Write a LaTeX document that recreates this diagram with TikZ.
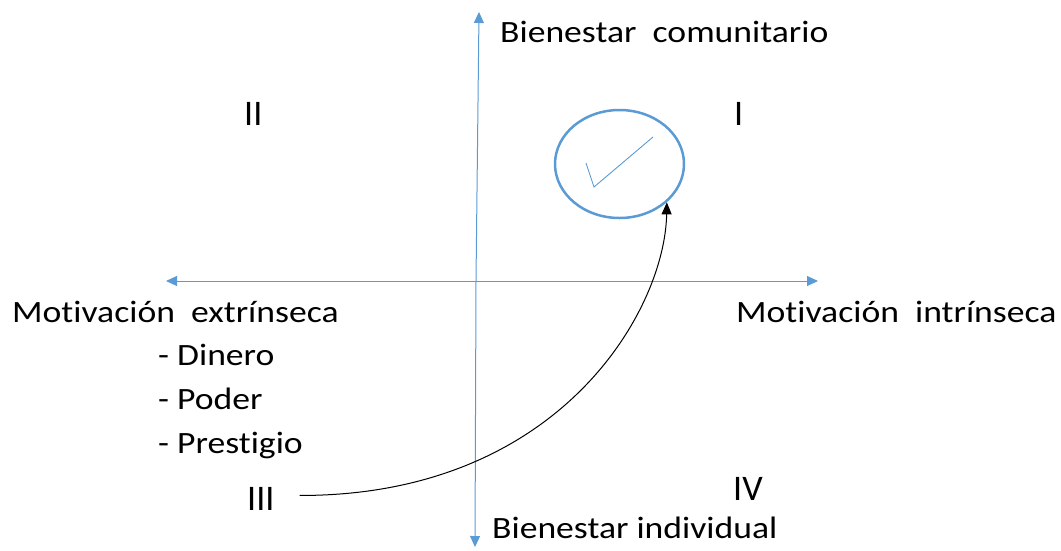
\documentclass[tikz,border=0pt]{standalone}
\usepackage{fontspec}
\setmainfont{Carlito}[Ligatures=NoCommon]
\newfontfamily\widefont{Carlito}[Ligatures=NoCommon, FakeStretch=1.15]
\usetikzlibrary{arrows.meta,shapes.geometric}
\definecolor{axisblue}{HTML}{5B9BD5}
\tikzset{
  axis/.style={draw=axisblue, line width=1pt, -{Triangle[length=11pt, width=10pt]}},
  lbl/.style={anchor=base west, inner sep=0pt, font=\widefont\fontsize{31}{36}\selectfont},
  numeral/.style={anchor=base west, inner sep=0pt, font=\fontsize{36}{40}\selectfont}
}

\begin{document}
\begin{tikzpicture}[x=1pt, y=-1pt]
			%%%%% START %%%%%
			\useasboundingbox (0, 0) rectangle (1061, 550);
			
			\coordinate (top) at (479, 12);
			\coordinate (bottom) at (475, 547);
			\coordinate (left) at (166, 281);
			\coordinate (right) at (818, 281);
			\coordinate (mid) at (476, 281);
			
			\draw[axis] (mid) -- (top);
			\draw[axis] (mid) -- (bottom);
			\draw[axis] (mid) -- (left);
			\draw[axis] (mid) -- (right);
			
			\node[lbl] (comunitario) at (500, 42) {Bienestar\ \ comunitario};
			\node[lbl] (individual) at (492, 538) {Bienestar\hspace{8pt}individual};
			\node[lbl] (extrinseca) at (12, 322) {Motivación\ \ extrínseca};
			\node[lbl] (intrinseca) at (736, 322) {Motivación\ \ intrínseca};
			
			\node[lbl] (dinero) at (158, 365) {- Dinero};
			\node[lbl] (poder) at (158, 409) {- Poder};
			\node[lbl] (prestigio) at (158, 453) {- Prestigio};
			
			\node[numeral] (q1) at (734, 125) {I};
			\node[numeral] (q2) at (244, 125) {II};
			\node[numeral] (q3) at (247, 510) {III};
			\node[numeral] (q4) at (733, 500) {IV};
			
			\node[ellipse, draw=axisblue, line width=2.5pt, inner sep=0pt, minimum width=129pt, minimum height=108pt] (goal) at (619.5, 164) {};
			\draw[axisblue, line width=0.9pt] (586, 163) -- (594, 187) -- (653, 137);
			
			\draw[black, line width=1pt, -{Triangle[length=12pt, width=10pt]}] (q3.east) ++(25, -3) coordinate (start)
				.. controls (560, 496) and (665, 310) .. (goal.-39);
			%%%%% END %%%%%
		\end{tikzpicture}
\end{document}
